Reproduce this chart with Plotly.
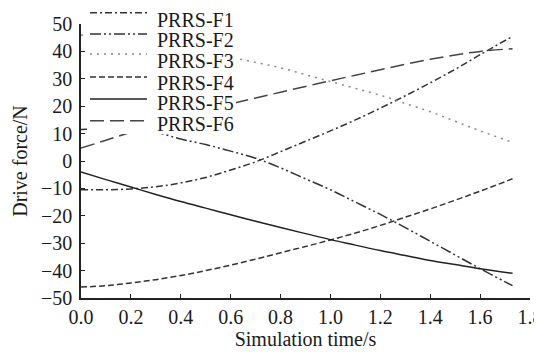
import plotly.graph_objects as go

time_s = [0.0, 0.1, 0.2, 0.3, 0.4, 0.5, 0.6, 0.7, 0.8, 0.9, 1.0, 1.1, 1.2, 1.3, 1.4, 1.5, 1.6, 1.73]

f1 = [-10.5, -10.5, -10.2, -9.4, -8.0, -6.0, -3.3, -0.3, 3.4, 7.2, 11.0, 15.0, 19.3, 23.8, 28.5, 33.5, 38.8, 45.5]
f2 = [11.5, 11.8, 11.6, 10.5, 8.0, 6.0, 3.6, 1.0, -2.5, -6.5, -10.5, -15.0, -19.5, -24.3, -29.3, -34.3, -39.3, -45.5]
f3 = [46.0, 45.0, 43.8, 42.5, 41.0, 39.5, 37.8, 36.0, 34.0, 31.5, 29.0, 26.5, 24.0, 21.0, 18.0, 14.5, 11.0, 6.8]
f4 = [-46.0, -45.5, -44.5, -43.3, -41.8, -40.0, -38.0, -35.8, -33.5, -31.2, -28.8, -26.3, -23.5, -20.5, -17.5, -14.3, -11.0, -6.5]
f5 = [-4.0, -6.8, -9.5, -12.2, -14.8, -17.2, -19.6, -22.0, -24.3, -26.5, -28.7, -30.7, -32.7, -34.5, -36.3, -37.8, -39.3, -41.0]
f6 = [4.7, 7.6, 10.5, 13.4, 16.0, 18.5, 20.8, 23.0, 25.1, 27.2, 29.3, 31.3, 33.3, 35.3, 37.1, 38.7, 40.0, 41.0]

names = ["PRRS-F1", "PRRS-F2", "PRRS-F3", "PRRS-F4", "PRRS-F5", "PRRS-F6"]
series = [f1, f2, f3, f4, f5, f6]

x_ticks = [0.0, 0.2, 0.4, 0.6, 0.8, 1.0, 1.2, 1.4, 1.6, 1.8]
x_tick_labels = ["0.0", "0.2", "0.4", "0.6", "0.8", "1.0", "1.2", "1.4", "1.6", "1.8"]
y_ticks = [-50, -40, -30, -20, -10, 0, 10, 20, 30, 40, 50]
y_tick_labels = ["\u221250", "\u221240", "\u221230", "\u221220", "\u221210", "0", "10", "20", "30", "40", "50"]

styles = [
    dict(color="#333333", dash="7px,3px,2px,3px"),
    dict(color="#333333", dash="11px,3px,2px,3px,2px,3px"),
    dict(color="#888888", dash="2px,5px"),
    dict(color="#333333", dash="6px,3px"),
    dict(color="#222222", dash="solid"),
    dict(color="#444444", dash="14px,6px"),
]

# page body has an 8px margin, so the figure is drawn 8px in from the top-left
OFF = 8
W, H = 542 - OFF, 352 - OFF
ML, MR, MT, MB = 81 - OFF, 12, 24 - OFF, 54
PW, PH = W - ML - MR, H - MT - MB


def px_x(px):
    return (px - OFF - ML) / PW


def px_y(py):
    return (H - MB - (py - OFF)) / PH


FONT = "Liberation Serif"
TXT = "#1a1a1a"
FS = 20

fig = go.Figure()
for name, ys, st in zip(names, series, styles):
    fig.add_trace(go.Scatter(
        x=time_s, y=ys, name=name, mode="lines", showlegend=False,
        line=dict(color=st["color"], dash=st["dash"], width=1.5, shape="spline"),
    ))

# hand-made legend (white box, line samples, labels)
legend_line_py = [12.7, 34.0, 54.0, 77.0, 99.0, 120.7]
legend_text_py = [20.0, 40.0, 61.5, 82.5, 103.0, 124.0]
shapes = [dict(type="rect", xref="paper", yref="paper",
               x0=px_x(87), x1=px_x(236), y0=px_y(134), y1=px_y(2),
               fillcolor="white", line=dict(width=0), layer="above")]
annotations = []
for name, st, ly, ty in zip(names, styles, legend_line_py, legend_text_py):
    shapes.append(dict(type="line", xref="paper", yref="paper",
                       x0=px_x(90), x1=px_x(147), y0=px_y(ly), y1=px_y(ly),
                       line=dict(color=st["color"], dash=st["dash"], width=1.5),
                       layer="above"))
    annotations.append(dict(text=name, xref="paper", yref="paper",
                            x=px_x(155), y=px_y(ty), xanchor="left", yanchor="middle",
                            showarrow=False, font=dict(family=FONT, size=FS, color=TXT)))

fig.update_layout(
    width=W, height=H,
    margin=dict(l=ML, r=MR, t=MT, b=MB, autoexpand=False),
    paper_bgcolor="white", plot_bgcolor="white",
    font=dict(family=FONT, size=FS, color=TXT),
    showlegend=False,
    shapes=shapes,
    annotations=annotations,
    xaxis=dict(
        range=[0, 1.8], tickmode="array", tickvals=x_ticks, ticktext=x_tick_labels,
        ticks="inside", ticklen=4, tickwidth=1.2, tickcolor="#222222",
        showline=True, linecolor="#222222", linewidth=1.5,
        showgrid=False, zeroline=False, automargin=False,
        ticklabeloverflow="allow",
        title=dict(text="Simulation time/s", standoff=4, font=dict(family=FONT, size=FS, color=TXT)),
        tickfont=dict(family=FONT, size=FS, color=TXT),
    ),
    yaxis=dict(
        range=[-50, 50], tickmode="array", tickvals=y_ticks, ticktext=y_tick_labels,
        ticks="inside", ticklen=4, tickwidth=1.2, tickcolor="#222222",
        showline=True, linecolor="#222222", linewidth=1.5,
        showgrid=False, zeroline=False, automargin=False,
        ticklabeloverflow="allow", ticklabelstandoff=3,
        title=dict(text="Drive force/N", standoff=8, font=dict(family=FONT, size=FS, color=TXT)),
        tickfont=dict(family=FONT, size=FS, color=TXT),
    ),
)

fig.write_html("out.html")
